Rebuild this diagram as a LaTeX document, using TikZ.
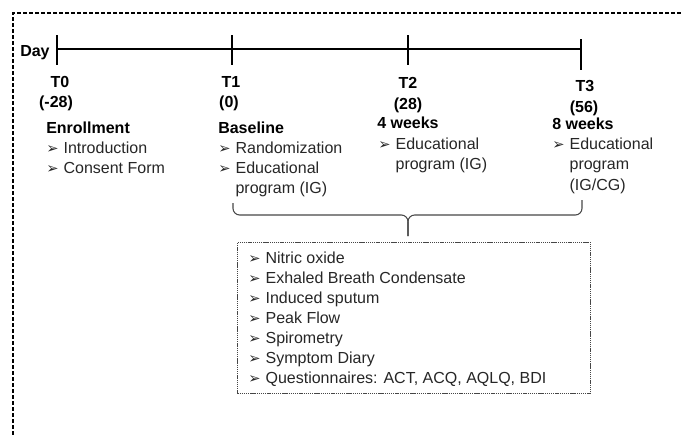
\documentclass[tikz,border=0pt]{standalone}
\usepackage{fontspec}
\setmainfont{Liberation Sans}
\newfontfamily\dingfont{DejaVu Sans}
\usetikzlibrary{positioning}
\definecolor{ink}{RGB}{38,38,38}
\definecolor{rule}{RGB}{70,70,70}
\newcommand{\itm}{\makebox[13pt][l]{\dingfont\fontsize{11}{11}\selectfont ➢}}
\newcommand{\ind}{\hspace*{13pt}}

\begin{document}
\begin{tikzpicture}[x=0.75pt,y=-0.75pt,
    frame/.style={line width=1.5pt,dash pattern=on 3pt off 1.5pt},
    tickline/.style={line width=1.2pt},
    lbl/.style={anchor=base west,inner sep=0pt,font=\fontsize{12}{15}\selectfont,text=ink},
    hdr/.style={lbl,font=\fontsize{12}{15}\selectfont\bfseries,text=black},
    tlbl/.style={hdr,anchor=base},
    bracepath/.style={rule,line width=0.8pt,rounded corners=5pt},
    measbox/.style={draw=rule,line width=0.6pt,dash pattern=on 1pt off 0.6pt,anchor=north west,
      minimum width=264.75pt,minimum height=113.25pt,inner sep=0pt}]
  \useasboundingbox (0,0) rectangle (681,437);
  \draw[frame] (681,13) -| (13,437);
  \node[hdr] (day) at (20,56) {Day};
  \foreach \n/\x/\a/\b in {0/57/35/65,1/232/35/65,2/408/35/65,3/581/39/70}
  {
    \draw[tickline] (\x,\a) coordinate (t\n top) -- (\x,\b) coordinate (t\n bot);
    \coordinate (t\n) at (\x,49);
  }
  \draw[line width=1pt] (t0) -- (t3);
  \foreach \n/\x/\y/\d/\dx/\dy in {0/60/87/-28/56/107,1/231/87/0/229/107,2/408/88/28/408/109,3/585/91/56/584/112}
  {
    \node[tlbl] (T\n) at (\x,\y) {T\n};
    \node[tlbl] (D\n) at (\dx,\dy) {(\d)};
  }
  \node[hdr] (enroll) at (46,133) {Enrollment};
  \node[lbl] (intro) at (46,153) {\itm Introduction};
  \node[lbl] (consent) at (46,173) {\itm Consent Form};
  \node[hdr] (base) at (218,133) {Baseline};
  \node[lbl] (rand) at (218,153) {\itm Randomization};
  \node[lbl] (edu1) at (218,173) {\itm Educational};
  \node[lbl] (prog1) at (218,193) {\ind program (IG)};
  \node[hdr] (wk4) at (377,128) {4 weeks};
  \node[lbl] (edu2) at (378,149) {\itm Educational};
  \node[lbl] (prog2) at (378,169) {\ind program (IG)};
  \node[hdr] (wk8) at (552,129) {8 weeks};
  \node[lbl] (edu3) at (552,149) {\itm Educational};
  \node[lbl] (prog3) at (552,169) {\ind program};
  \node[lbl] (grp3) at (552,190) {\ind (IG/CG)};
  \coordinate (bl) at (233,203);
  \coordinate (br) at (582,200);
  \coordinate (bm) at (408,215);
  \coordinate (btip) at (408,236);
  \draw[bracepath] (bl) |- (bm) -- (btip);
  \draw[bracepath] (br) |- (bm) -- (btip);
  \node[measbox] (meas) at (237,242) {};
  \foreach \t [count=\i from 0] in {Nitric oxide,Exhaled Breath Condensate,Induced sputum,Peak Flow,Spirometry,Symptom Diary,{Questionnaires: ACT, ACQ, AQLQ, BDI}}
    \node[lbl] (m\i) at (248,{263+20*\i}) {\itm \t};
\end{tikzpicture}
\end{document}
